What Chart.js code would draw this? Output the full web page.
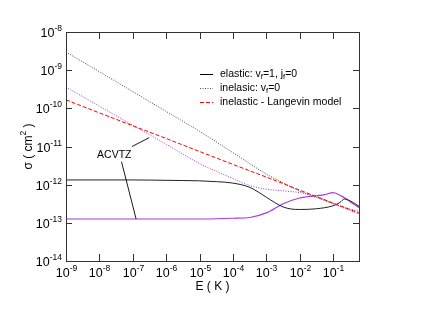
<!DOCTYPE html>
<html>
<head>
<meta charset="utf-8">
<script src="https://cdn.jsdelivr.net/npm/chart.js@4.4.1/dist/chart.umd.min.js"></script>
<style>
  html, body { margin: 0; padding: 0; background: #fff; }
  canvas { display: block; }
</style>
</head>
<body>
<canvas id="sigmaChart" width="423" height="327"></canvas>
<script>
// energies (K) and cross sections (cm^2)
const elasticE    = [1e-9, 1e-7, 1e-6, 1e-5, 3.2e-5, 1e-4, 3.2e-4, 1e-3, 1.8e-3, 3.2e-3, 5.6e-3, 1e-2, 3.2e-2, 0.1, 0.16, 0.22, 0.32, 0.6];
const elasticSig  = [1.33e-12, 1.33e-12, 1.30e-12, 1.26e-12, 1.20e-12, 1.10e-12, 8.5e-13, 4.7e-13, 3.4e-13, 2.6e-13, 2.3e-13, 2.24e-13, 2.34e-13, 2.8e-13, 3.4e-13, 4.2e-13, 3.8e-13, 2.7e-13];

const inelE       = [1e-9, 1e-8, 1e-7, 1e-6, 1e-5, 1e-4, 1e-3, 3.2e-3, 1e-2, 3.2e-2, 0.1, 0.32, 0.6];
const inelSig     = [3.0e-9, 9.1e-10, 2.75e-10, 8.3e-11, 2.5e-11, 6.9e-12, 1.9e-12, 1.12e-12, 6.8e-13, 4.6e-13, 3.2e-13, 2.3e-13, 2.0e-13];

const langE       = [1e-9, 1e-8, 1e-7, 1e-6, 1e-5, 1e-4, 1e-3, 1e-2, 0.1, 0.6];
const langSig     = [1.66e-10, 7.6e-11, 3.5e-11, 1.62e-11, 7.4e-12, 3.4e-12, 1.58e-12, 7.2e-13, 3.3e-13, 1.8e-13];

// ACVTZ results
const acvtzElE    = [1e-9, 1e-5, 1e-4, 3.2e-4, 1e-3, 3.2e-3, 1e-2, 3.2e-2, 5.6e-2, 0.1, 0.18, 0.32, 0.6];
const acvtzElSig  = [1.26e-13, 1.26e-13, 1.32e-13, 1.38e-13, 1.82e-13, 3.16e-13, 4.47e-13, 5.13e-13, 5.5e-13, 6.17e-13, 5.0e-13, 3.63e-13, 2.5e-13];

const acvtzInE    = [1e-9, 1e-8, 1e-7, 1e-6, 1e-5, 3.2e-5, 1e-4, 3.2e-4, 1e-3, 3.2e-3, 1e-2, 3.2e-2, 0.1, 0.32, 0.6];
const acvtzInSig  = [3.6e-10, 1.14e-10, 3.6e-11, 1.15e-11, 3.6e-12, 2.24e-12, 1.45e-12, 9.5e-13, 7.6e-13, 6.9e-13, 6.2e-13, 4.9e-13, 3.2e-13, 2.1e-13, 1.7e-13];

const xTickExps = [-9, -8, -7, -6, -5, -4, -3, -2, -1];
const yTickExps = [-14, -13, -12, -11, -10, -9, -8];

const FONT = '"Liberation Sans", Arial, Helvetica, sans-serif';
const PURPLE = '#a23be6';

function pts(xs, ys) {
    return xs.map((x, i) => ({ x: x, y: ys[i] }));
}

// draw text made of pieces, some raised (sup) or lowered (sub)
function richWidth(ctx, parts, size, small) {
    let w = 0;
    parts.forEach(p => {
        ctx.font = (p.s ? small : size) + 'px ' + FONT;
        w += ctx.measureText(p.t).width;
    });
    return w;
}
function drawRich(ctx, parts, x, y, size, small, align) {
    const w = richWidth(ctx, parts, size, small);
    let cx = x;
    if (align === 'center') cx = x - w / 2;
    if (align === 'right') cx = x - w;
    ctx.textBaseline = 'middle';
    ctx.textAlign = 'left';
    parts.forEach(p => {
        ctx.font = (p.s ? small : size) + 'px ' + FONT;
        let dy = 0;
        if (p.s === 'sup') dy = -5;
        if (p.s === 'sub') dy = 3;
        ctx.fillText(p.t, cx, y + dy);
        cx += ctx.measureText(p.t).width;
    });
}

const framePlugin = {
    id: 'frame',
    beforeDraw(chart) {
        const ctx = chart.ctx;
        ctx.save();
        ctx.fillStyle = '#fff';
        ctx.fillRect(0, 0, chart.width, chart.height);
        ctx.restore();
    },
    afterDraw(chart) {
        const ctx = chart.ctx;
        const a = chart.chartArea;
        const xs = chart.scales.x, ys = chart.scales.y;
        ctx.save();
        ctx.strokeStyle = '#333';
        ctx.lineWidth = 1;
        ctx.strokeRect(Math.round(a.left) + 0.5, Math.round(a.top) + 0.5,
            Math.round(a.right - a.left), Math.round(a.bottom - a.top));

        ctx.fillStyle = '#000';
        // x ticks, inward top and bottom
        xTickExps.forEach(e => {
            const px = Math.round(xs.getPixelForValue(Math.pow(10, e))) + 0.5;
            ctx.beginPath();
            ctx.moveTo(px, a.bottom); ctx.lineTo(px, a.bottom - 7);
            ctx.moveTo(px, a.top); ctx.lineTo(px, a.top + 7);
            ctx.stroke();
            drawRich(ctx, [{ t: '10' }, { t: String(e), s: 'sup' }], px, a.bottom + 13, 12.5, 8.5, 'center');
        });
        // y ticks, inward left and right
        yTickExps.forEach(e => {
            const py = Math.round(ys.getPixelForValue(Math.pow(10, e))) + 0.5;
            ctx.beginPath();
            ctx.moveTo(a.left, py); ctx.lineTo(a.left + 6, py);
            ctx.moveTo(a.right, py); ctx.lineTo(a.right - 6, py);
            ctx.stroke();
            drawRich(ctx, [{ t: '10' }, { t: String(e), s: 'sup' }], a.left - 4, py + 1, 12.5, 8.5, 'right');
        });

        // axis titles
        drawRich(ctx, [{ t: 'E ( K )' }], (a.left + a.right) / 2, a.bottom + 26, 12, 8.5, 'center');
        ctx.save();
        ctx.translate(29, (a.top + a.bottom) / 2);
        ctx.rotate(-Math.PI / 2);
        drawRich(ctx, [{ t: '\u03c3 ( cm' }, { t: '2', s: 'sup' }, { t: ' )' }], 0, 0, 12, 8.5, 'center');
        ctx.restore();

        // legend
        const rows = [
            { color: '#000', dash: [], parts: [{ t: 'elastic: v' }, { t: 'f', s: 'sub' }, { t: '=1, j' }, { t: 'f', s: 'sub' }, { t: '=0' }] },
            { color: '#555', dash: [1, 1.5], parts: [{ t: 'inelasic: v' }, { t: 'f', s: 'sub' }, { t: '=0' }] },
            { color: '#f00', dash: [4, 2], parts: [{ t: 'inelastic - Langevin model' }] }
        ];
        rows.forEach((r, i) => {
            const y = 74 + i * 14;
            ctx.strokeStyle = r.color;
            ctx.setLineDash(r.dash);
            ctx.beginPath();
            ctx.moveTo(200, y + 0.5); ctx.lineTo(213, y + 0.5);
            ctx.stroke();
            ctx.setLineDash([]);
            ctx.fillStyle = '#000';
            drawRich(ctx, r.parts, 220, y, 10.5, 7.5, 'left');
        });

        // ACVTZ label with leader lines, placed in data coordinates
        const P = (e, s) => [xs.getPixelForValue(e), ys.getPixelForValue(s)];
        const lbl = P(2.8e-8, 6.0e-12);
        drawRich(ctx, [{ t: 'ACVTZ' }], lbl[0], lbl[1], 10.5, 7.5, 'center');
        ctx.strokeStyle = '#000';
        ctx.lineWidth = 0.9;
        [[P(9.5e-8, 1.0e-11), P(3.1e-7, 1.7e-11)], [P(4.6e-8, 4.0e-12), P(1.26e-7, 1.26e-13)]].forEach(l => {
            ctx.beginPath();
            ctx.moveTo(l[0][0], l[0][1]); ctx.lineTo(l[1][0], l[1][1]);
            ctx.stroke();
        });
        ctx.restore();
    }
};

const ctx = document.getElementById('sigmaChart').getContext('2d');

new Chart(ctx, {
    type: 'line',
    data: {
        datasets: [
            {
                label: 'inelastic - Langevin model',
                data: pts(langE, langSig),
                borderColor: '#ff0000',
                borderDash: [4, 2],
                borderWidth: 1
            },
            {
                label: 'inelasic: vf=0',
                data: pts(inelE, inelSig),
                borderColor: '#444',
                borderDash: [1, 1.5],
                borderWidth: 1
            },
            {
                label: 'ACVTZ inelastic',
                data: pts(acvtzInE, acvtzInSig),
                borderColor: PURPLE,
                borderDash: [1, 1.5],
                borderWidth: 1
            },
            {
                label: 'elastic: vf=1, jf=0',
                data: pts(elasticE, elasticSig),
                borderColor: '#222',
                borderWidth: 1
            },
            {
                label: 'ACVTZ elastic',
                data: pts(acvtzElE, acvtzElSig),
                borderColor: PURPLE,
                borderWidth: 1.2
            }
        ]
    },
    options: {
        responsive: false,
        animation: false,
        devicePixelRatio: 1,
        layout: { padding: { left: 66, right: 64, top: 32, bottom: 66 } },
        elements: {
            point: { radius: 0 },
            line: { cubicInterpolationMode: 'monotone', fill: false }
        },
        scales: {
            x: { type: 'logarithmic', min: 1e-9, max: 0.6, display: false },
            y: { type: 'logarithmic', min: 1e-14, max: 1e-8, display: false }
        },
        plugins: {
            legend: { display: false },
            tooltip: { enabled: false }
        }
    },
    plugins: [framePlugin]
});
</script>
</body>
</html>
